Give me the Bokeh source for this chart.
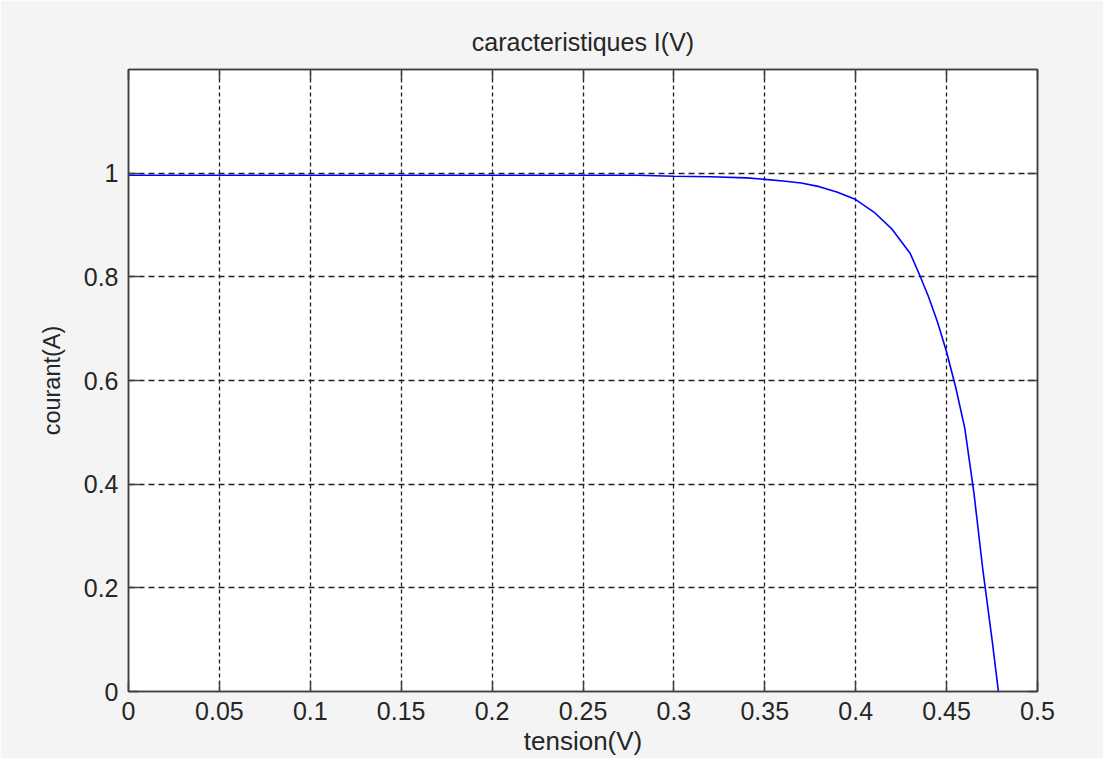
from bokeh.plotting import figure
from bokeh.models import Range1d, FixedTicker, LinearAxis
from bokeh.embed import file_html
from bokeh.resources import INLINE

# data
tension = [0.0, 0.05, 0.10, 0.15, 0.20, 0.25, 0.28, 0.30, 0.32, 0.34, 0.35, 0.36,
           0.37, 0.38, 0.39, 0.40, 0.41, 0.42, 0.43, 0.435, 0.44, 0.445, 0.45,
           0.455, 0.46, 0.465, 0.47, 0.475, 0.4785]
courant = [0.996, 0.996, 0.996, 0.996, 0.996, 0.996, 0.996, 0.994, 0.993, 0.991,
           0.988, 0.985, 0.981, 0.974, 0.963, 0.949, 0.925, 0.892, 0.845, 0.805,
           0.762, 0.713, 0.655, 0.587, 0.508, 0.384, 0.233, 0.100, 0.0]

x_ticks = [0, 0.05, 0.1, 0.15, 0.2, 0.25, 0.3, 0.35, 0.4, 0.45, 0.5]
x_tick_labels = ["0", "0.05", "0.1", "0.15", "0.2", "0.25", "0.3", "0.35", "0.4", "0.45", "0.5"]
y_ticks = [0, 0.2, 0.4, 0.6, 0.8, 1.0]
y_tick_labels = ["0", "0.2", "0.4", "0.6", "0.8", "1"]

FONT = "Liberation Sans"
AX = "#404040"
TXT = "#262626"

p = figure(width=1103, height=758, output_backend="svg", toolbar_location=None,
           x_range=Range1d(0, 0.5), y_range=Range1d(0, 1.2),
           title="caracteristiques I(V)",
           x_axis_label="tension(V)", y_axis_label="courant(A)",
           min_border_left=128, min_border_right=66, min_border_top=69,
           min_border_bottom=66)
p.border_fill_color = "#f4f4f4"
p.background_fill_color = "white"
p.outline_line_color = AX
p.outline_line_width = 1.5

p.title.align = "center"
p.title.text_font = FONT
p.title.text_font_size = "25px"
p.title.text_font_style = "normal"
p.title.text_color = TXT
p.title.standoff = 28

p.line(tension, courant, line_color="#0000ff", line_width=1.6)

for ax, ticks, labels in ((p.xaxis[0], x_ticks, x_tick_labels), (p.yaxis[0], y_ticks, y_tick_labels)):
    ax.ticker = FixedTicker(ticks=ticks)
    ax.major_label_overrides = {t: l for t, l in zip(ticks, labels)}
    ax.major_tick_in = 10
    ax.major_tick_out = 0
    ax.minor_tick_in = 0
    ax.minor_tick_out = 0
    ax.axis_line_color = AX
    ax.axis_line_width = 1.5
    ax.major_tick_line_color = AX
    ax.major_tick_line_width = 1.5
    ax.major_label_text_font = FONT
    ax.major_label_text_font_size = "25px"
    ax.major_label_text_color = TXT
    ax.major_label_standoff = 10
    ax.axis_label_text_font = FONT
    ax.axis_label_text_font_style = "normal"
    ax.axis_label_text_color = TXT

p.xaxis[0].axis_label_text_font_size = "26px"
p.xaxis[0].axis_label_standoff = 3
p.yaxis[0].axis_label_text_font_size = "23.5px"
p.yaxis[0].axis_label_standoff = 16

for loc, ticks in (("above", x_ticks), ("right", y_ticks)):
    ax = LinearAxis(ticker=FixedTicker(ticks=ticks), major_label_text_font_size="1px",
                    major_label_text_color=None,
                    major_tick_in=10, major_tick_out=0, minor_tick_in=0, minor_tick_out=0,
                    axis_line_color=AX, axis_line_width=1.5,
                    major_tick_line_color=AX, major_tick_line_width=1.5,
                    major_label_standoff=0)
    p.add_layout(ax, loc)

for g, ticks, dash in ((p.xgrid[0], x_ticks, "4 3"), (p.ygrid[0], y_ticks, "6 4")):
    g.ticker = FixedTicker(ticks=ticks)
    g.grid_line_color = "#202020"
    g.grid_line_width = 1.3
    g.grid_line_dash = dash

open("out.html", "w").write(file_html(p, INLINE))
